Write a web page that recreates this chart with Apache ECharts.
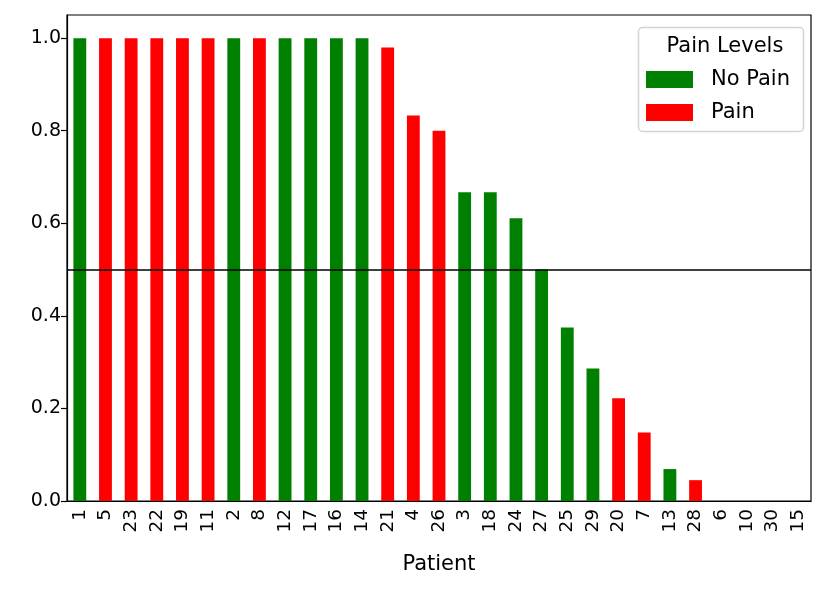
<!DOCTYPE html>
<html>
<head>
<meta charset="utf-8">
<script src="https://cdn.jsdelivr.net/npm/echarts@6/dist/echarts.min.js"></script>
<style>html,body{margin:0;padding:0;background:#fff;}#c{width:831px;height:592px;}</style>
</head>
<body>
<div id="c"></div>
<script>
var patients = ['1','5','23','22','19','11','2','8','12','17','16','14','21','4','26','3','18','24','27','25','29','20','7','13','28','6','10','30','15'];
var scores = [1,1,1,1,1,1,1,1,1,1,1,1,0.98,0.833,0.8,0.667,0.667,0.611,0.5,0.375,0.286,0.222,0.148,0.069,0.045,0,0,0,0];
var painFlag = [0,1,1,1,1,1,0,1,0,0,0,0,1,1,1,0,0,0,0,0,0,1,1,0,1,0,0,0,0];
var yTicks = [0,0.2,0.4,0.6,0.8,1.0];
var threshold = 0.5;

var noPainData = scores.map(function(v,i){ return painFlag[i]===0 ? v : '-'; });
var painData = scores.map(function(v,i){ return painFlag[i]===1 ? v : '-'; });

var font = 'DejaVu Sans';
var chart = echarts.init(document.getElementById('c'), null, {renderer:'canvas'});
chart.setOption({
  animation:false,
  backgroundColor:'#fff',
  textStyle:{fontFamily:font},
  grid:{left:67,right:20,top:15,bottom:91,show:true,borderColor:'#000',borderWidth:1.2,backgroundColor:'transparent'},
  title:{text:'Pain Levels',left:720,top:31,textAlign:'center',textStyle:{fontFamily:font,fontSize:21,fontWeight:'normal',color:'#000'}},
  graphic:[{type:'rect',shape:{x:638.5,y:27.5,width:165,height:104,r:4},style:{fill:'rgba(255,255,255,0.85)',stroke:'#d4d4d4',lineWidth:1.5},z:0}],
  legend:{orient:'vertical',left:641,top:64,itemWidth:47,itemHeight:17,itemGap:12,icon:'rect',
    textStyle:{fontFamily:font,fontSize:21,color:'#000',padding:[0,0,0,13]},
    data:['No Pain','Pain'],z:5},
  xAxis:{type:'category',data:patients,boundaryGap:true,
    axisLine:{lineStyle:{color:'#000',width:1.2}},
    axisTick:{alignWithLabel:true,interval:0,length:6,lineStyle:{color:'#000',width:1.2}},
    axisLabel:{interval:0,rotate:90,fontSize:18.5,color:'#000',margin:8,fontFamily:font},
    name:'Patient',nameLocation:'middle',nameGap:53,nameTextStyle:{fontSize:21,color:'#000',fontFamily:font},
    splitLine:{show:false}},
  yAxis:{type:'value',min:0,max:1.05,interval:0.2,
    axisLine:{show:true,lineStyle:{color:'#000',width:1.2}},
    axisTick:{show:true,length:6,customValues:yTicks,lineStyle:{color:'#000',width:1.2}},
    axisLabel:{customValues:yTicks,fontSize:19,color:'#000',margin:6,fontFamily:font,formatter:function(v){return v.toFixed(1);}},
    splitLine:{show:false}},
  series:[
    {name:'No Pain',type:'bar',data:noPainData,barWidth:'50%',barGap:'-100%',itemStyle:{color:'#008000'},
      markLine:{silent:true,symbol:'none',label:{show:false},lineStyle:{color:'#000',width:1.5,type:'solid'},data:[{yAxis:threshold}]}},
    {name:'Pain',type:'bar',data:painData,barWidth:'50%',barGap:'-100%',itemStyle:{color:'#ff0000'}}
  ]
});
</script>
</body>
</html>
